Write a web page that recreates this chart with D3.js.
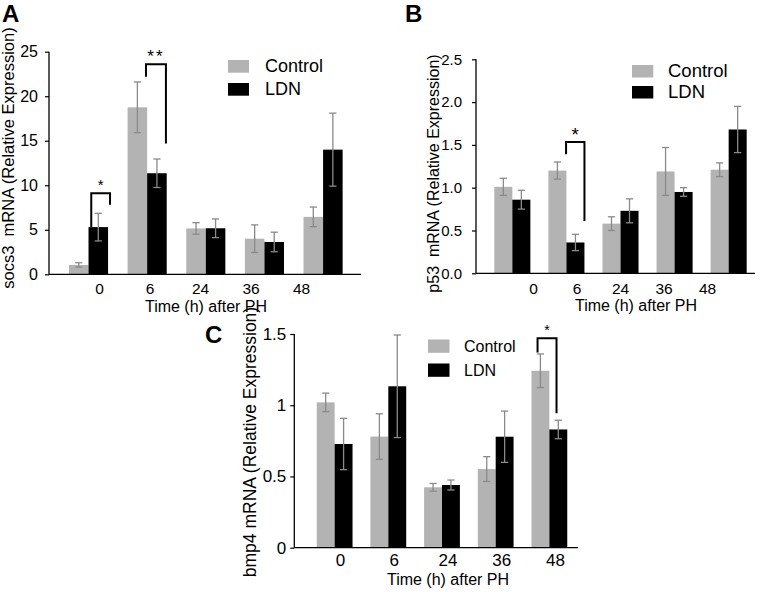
<!DOCTYPE html>
<html>
<head>
<meta charset="utf-8">
<script src="https://cdn.jsdelivr.net/npm/d3@7"></script>
<style>
  html, body { margin: 0; padding: 0; background: #fff; }
  svg { display: block; font-family: "Liberation Sans", Arial, Helvetica, sans-serif; }
</style>
</head>
<body>
<svg id="chart" width="765" height="592"></svg>
<script>
// ---------------- DATA ----------------
const categories = ["0", "6", "24", "36", "48"];
const seriesNames = ["Control", "LDN"];

// Panel A: socs3
const socs3Control    = [1.05, 18.75, 5.15, 4.0, 6.45];
const socs3ControlErr = [0.25, 2.85, 0.65, 1.55, 1.1];
const socs3LDN        = [5.3, 11.35, 5.17, 3.63, 14.0];
const socs3LDNErr     = [1.55, 1.6, 1.05, 1.1, 4.1];
const socs3Ticks      = [0, 5, 10, 15, 20, 25];

// Panel B: p53
const p53Control    = [1.01, 1.2, 0.58, 1.19, 1.21];
const p53ControlErr = [0.1, 0.1, 0.08, 0.28, 0.08];
const p53LDN        = [0.86, 0.36, 0.73, 0.95, 1.68];
const p53LDNErr     = [0.11, 0.095, 0.14, 0.05, 0.27];
const p53Ticks      = [0, 0.5, 1.0, 1.5, 2.0, 2.5];

// Panel C: bmp4
const bmp4Control    = [1.02, 0.78, 0.424, 0.552, 1.242];
const bmp4ControlErr = [0.065, 0.16, 0.027, 0.087, 0.118];
const bmp4LDN        = [0.728, 1.133, 0.44, 0.779, 0.83];
const bmp4LDNErr     = [0.18, 0.36, 0.035, 0.18, 0.065];
const bmp4Ticks      = [0, 0.5, 1, 1.5];

// Significance annotations (values in data units)
const socs3Sig = [
  { cat: "0", top: 9.1, leftEnd: 5.3, rightEnd: 7.8, star: 10.4, label: "*" },
  { cat: "6", top: 23.6, leftEnd: 22.2, rightEnd: 14.7, star: 24.9, label: "**" }
];
const p53Sig = [
  { cat: "6", top: 1.534, leftEnd: 1.39, rightEnd: 0.61, star: 1.67, label: "*" }
];
const bmp4Sig = [
  { cat: "48", top: 1.47, leftEnd: 1.371, rightEnd: 0.943, star: 1.551, label: "*" }
];

// ---------------- STYLE / LAYOUT ----------------
const colors = { Control: "#b3b3b3", LDN: "#000000" };
const errColor = "#8a8a8a";
const svg = d3.select("#chart");

const panels = [
  {
    letter: "A", letterX: 2, letterY: 22,
    control: socs3Control, controlErr: socs3ControlErr, ldn: socs3LDN, ldnErr: socs3LDNErr,
    ticks: socs3Ticks, domain: [0, 25], fmt: d3.format("d"),
    yRange: [274.3, 51.7], axisX: 49, axisEnd: 361,
    bandRange: [59.2, 352.4], labelRange: [99, 301],
    tickFont: 16, xTickFont: 15.5, xTickBaseline: 294, yTickGap: 11,
    xTitle: "Time (h) after PH", xTitleX: 206, xTitleY: 311.5, xTitleFont: 16,
    yTitle: "socs3  mRNA (Relative Expression)", yTitleX: 14, yTitleY: 158, yTitleFont: 16.5,
    legend: { x: 228, y1: 60, y2: 83, w: 21, h: 12.7, textX: 265, font: 18 },
    sig: socs3Sig, sigLeft: [0.57, 0.47], sigRight: [1.05, 0.98], starFont: [15, 17]
  },
  {
    letter: "B", letterX: 405, letterY: 22,
    control: p53Control, controlErr: p53ControlErr, ldn: p53LDN, ldnErr: p53LDNErr,
    ticks: p53Ticks, domain: [0, 2.5], fmt: d3.format(".1f"),
    yRange: [273.3, 59.3], axisX: 476, axisEnd: 755,
    bandRange: [485.3, 755.7], labelRange: [533, 707],
    tickFont: 15, xTickFont: 15.5, xTickBaseline: 294, yTickGap: 14,
    xTitle: "Time (h) after PH", xTitleX: 636, xTitleY: 311, xTitleFont: 16,
    yTitle: "p53  mRNA (Relative Expression)", yTitleX: 439, yTitleY: 173.5, yTitleFont: 16,
    legend: { x: 632, y1: 65, y2: 86, w: 21.3, h: 12.5, textX: 668, font: 18.5 },
    sig: p53Sig, sigLeft: [0.49], sigRight: [1.0], starFont: [19]
  },
  {
    letter: "C", letterX: 205, letterY: 343,
    control: bmp4Control, controlErr: bmp4ControlErr, ldn: bmp4LDN, ldnErr: bmp4LDNErr,
    ticks: bmp4Ticks, domain: [0, 1.5], fmt: d => String(d),
    yRange: [547.7, 334], axisX: 294.3, axisEnd: 578,
    bandRange: [307.8, 576.2], labelRange: [340, 555],
    tickFont: 17, xTickFont: 17, xTickBaseline: 566, yTickGap: 8,
    xTitle: "Time (h) after PH", xTitleX: 448, xTitleY: 585, xTitleFont: 16,
    yTitle: "bmp4 mRNA (Relative Expression)", yTitleX: 256, yTitleY: 442, yTitleFont: 17.5,
    legend: { x: 428, y1: 339.5, y2: 363.5, w: 21.5, h: 13.3, textX: 464, font: 16 },
    sig: bmp4Sig, sigLeft: [0.17], sigRight: [0.70], starFont: [14]
  }
];

function drawPanel(p) {
  const g = svg.append("g");
  const x = d3.scaleBand().domain(categories).range(p.bandRange)
    .paddingInner(1 / 3).paddingOuter(1 / 6);
  const xs = d3.scaleBand().domain(seriesNames).range([0, x.bandwidth()]);
  const y = d3.scaleLinear().domain(p.domain).range(p.yRange);
  const xl = d3.scalePoint().domain(categories).range(p.labelRange);

  const rows = categories.map((c, i) => ({
    cat: c,
    vals: [
      { s: "Control", v: p.control[i], e: p.controlErr[i] },
      { s: "LDN", v: p.ldn[i], e: p.ldnErr[i] }
    ]
  }));

  // bars
  const grp = g.selectAll(".grp").data(rows).join("g")
    .attr("transform", d => `translate(${x(d.cat)},0)`);
  grp.selectAll("rect").data(d => d.vals).join("rect")
    .attr("x", d => xs(d.s))
    .attr("width", xs.bandwidth())
    .attr("y", d => y(d.v))
    .attr("height", d => y(0) - y(d.v))
    .attr("fill", d => colors[d.s]);

  // error bars
  const eb = grp.selectAll(".eb").data(d => d.vals).join("g");
  const cap = 3.6;
  const cx = d => xs(d.s) + xs.bandwidth() / 2;
  eb.append("line")
    .attr("x1", cx).attr("x2", cx)
    .attr("y1", d => y(d.v + d.e)).attr("y2", d => y(d.v - d.e))
    .attr("stroke", errColor).attr("stroke-width", 1.3);
  eb.append("line")
    .attr("x1", d => cx(d) - cap).attr("x2", d => cx(d) + cap)
    .attr("y1", d => y(d.v + d.e)).attr("y2", d => y(d.v + d.e))
    .attr("stroke", errColor).attr("stroke-width", 1.3);
  eb.append("line")
    .attr("x1", d => cx(d) - cap).attr("x2", d => cx(d) + cap)
    .attr("y1", d => y(d.v - d.e)).attr("y2", d => y(d.v - d.e))
    .attr("stroke", errColor).attr("stroke-width", 1.3);

  // y axis
  const ya = g.append("g").attr("transform", `translate(${p.axisX},0)`)
    .call(d3.axisLeft(y).tickValues(p.ticks).tickFormat(p.fmt).tickSize(4).tickPadding(p.yTickGap - 4));
  ya.select(".domain").attr("stroke", "#000").attr("stroke-width", 1.3)
    .attr("d", `M0,${y(p.domain[1])}V${y(0)}`);
  ya.selectAll(".tick line").attr("stroke", "#000").attr("stroke-width", 1.2);
  ya.selectAll(".tick text").attr("font-size", p.tickFont + "px").attr("fill", "#000")
    .attr("font-family", "'Liberation Sans', Arial, sans-serif");

  // x axis labels (category labels)
  const xa = g.append("g").attr("transform", `translate(0,${p.xTickBaseline})`)
    .call(d3.axisBottom(xl).tickSize(0).tickPadding(0));
  xa.select(".domain").remove();
  xa.selectAll(".tick text").attr("font-size", p.xTickFont + "px").attr("fill", "#000")
    .attr("dy", 0).attr("y", 0)
    .attr("font-family", "'Liberation Sans', Arial, sans-serif");

  // x baseline
  g.append("line").attr("x1", p.axisX).attr("x2", p.axisEnd)
    .attr("y1", y(0)).attr("y2", y(0)).attr("stroke", "#000").attr("stroke-width", 1.3);

  // axis titles
  g.append("text").attr("x", p.xTitleX).attr("y", p.xTitleY).attr("text-anchor", "middle")
    .attr("font-size", p.xTitleFont + "px").text(p.xTitle);
  g.append("text").attr("transform", `translate(${p.yTitleX},${p.yTitleY}) rotate(-90)`)
    .attr("text-anchor", "middle").attr("font-size", p.yTitleFont + "px")
    .style("white-space", "pre").text(p.yTitle);

  // panel letter
  g.append("text").attr("x", p.letterX).attr("y", p.letterY)
    .attr("font-size", "24px").attr("font-weight", "bold").text(p.letter);

  // legend
  const L = p.legend;
  seriesNames.forEach((s, i) => {
    const yy = i === 0 ? L.y1 : L.y2;
    g.append("rect").attr("x", L.x).attr("y", yy).attr("width", L.w).attr("height", L.h)
      .attr("fill", colors[s]);
    g.append("text").attr("x", L.textX).attr("y", yy + L.h - 0.5)
      .attr("font-size", L.font + "px").text(s);
  });

  // significance brackets
  p.sig.forEach((s, i) => {
    const x0 = x(s.cat) + x.bandwidth() * p.sigLeft[i];
    const x1 = x(s.cat) + x.bandwidth() * p.sigRight[i];
    g.append("path")
      .attr("d", `M${x0},${y(s.leftEnd)}V${y(s.top)}H${x1}V${y(s.rightEnd)}`)
      .attr("fill", "none").attr("stroke", "#000").attr("stroke-width", 2);
    const fs = p.starFont[i];
    g.append("text").attr("x", (x0 + x1) / 2).attr("y", y(s.star) + fs * 0.57)
      .attr("text-anchor", "middle").attr("font-size", fs + "px")
      .attr("letter-spacing", s.label.length > 1 ? "2px" : "0px")
      .text(s.label);
  });
}

panels.forEach(drawPanel);
</script>
</body>
</html>
